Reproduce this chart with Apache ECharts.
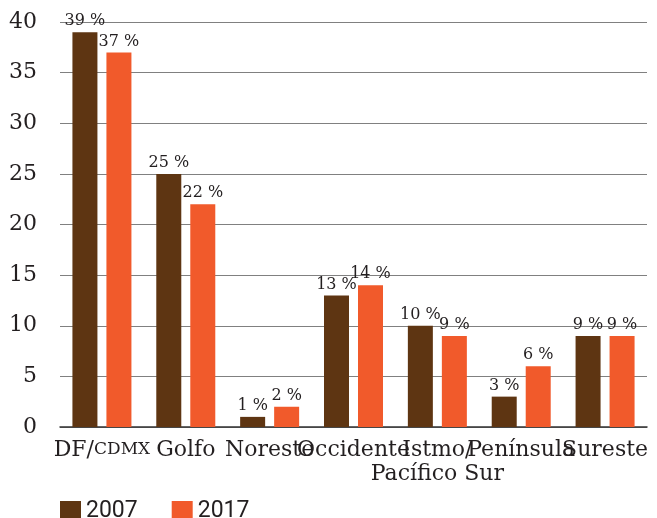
<!DOCTYPE html>
<html>
<head>
<meta charset="utf-8">
<script src="https://cdn.jsdelivr.net/npm/echarts@6/dist/echarts.min.js"></script>
<style>
  html, body { margin: 0; padding: 0; background: #fff; }
  #chart { width: 657px; height: 518px; }
</style>
</head>
<body>
<div id="chart"></div>
<script>
const categories = ['DF/CDMX', 'Golfo', 'Noreste', 'Occidente', 'Istmo/\nPacífico Sur', 'Península', 'Sureste'];
const years = ['2007', '2017'];
const values2007 = [39, 25, 1, 13, 10, 3, 9];
const values2017 = [37, 22, 2, 14, 9, 6, 9];
const yTicks = { min: 0, max: 40, step: 5 };

const SERIF = '"DejaVu Serif", "Liberation Serif", serif';
const TXT = '#231f20';
const colors = ['#5e3512', '#f15a2b'];

const chart = echarts.init(document.getElementById('chart'));

const barLabel = {
  show: true, position: 'top', distance: 3,
  formatter: '{c} %', fontFamily: SERIF, fontSize: 16, color: TXT
};

chart.setOption({
  animation: false,
  grid: { left: 60, right: 10, top: 22, bottom: 91 },
  legend: {
    left: 55, bottom: -10, itemWidth: 21, itemHeight: 21, itemGap: 34,
    icon: 'rect',
    textStyle: { fontFamily: '"Liberation Sans Narrow", Roboto', fontSize: 23, color: TXT },
    data: years
  },
  xAxis: {
    type: 'category',
    data: categories,
    axisLine: { lineStyle: { color: '#333', width: 1.5 } },
    axisTick: { inside: true, length: 9, lineStyle: { color: '#333' } },
    axisLabel: {
      interval: 0, margin: 11, fontFamily: SERIF, fontSize: 22, color: TXT, lineHeight: 24,
      formatter: v => v === 'DF/CDMX' ? '{a|DF/}{b|CDMX}' : v,
      rich: {
        a: { fontFamily: SERIF, fontSize: 22, color: TXT },
        b: { fontFamily: SERIF, fontSize: 17, color: TXT }
      }
    }
  },
  yAxis: {
    type: 'value',
    min: yTicks.min, max: yTicks.max, interval: yTicks.step,
    axisLine: { show: false },
    axisTick: { show: false },
    axisLabel: { margin: 23, fontFamily: SERIF, fontSize: 22, color: TXT },
    splitLine: { lineStyle: { color: '#808080', width: 1.2 } }
  },
  series: [
    { name: years[0], type: 'bar', data: values2007, barWidth: 25, barGap: '36%',
      itemStyle: { color: colors[0] }, label: barLabel },
    { name: years[1], type: 'bar', data: values2017, barWidth: 25,
      itemStyle: { color: colors[1] }, label: barLabel }
  ]
});
</script>
</body>
</html>
